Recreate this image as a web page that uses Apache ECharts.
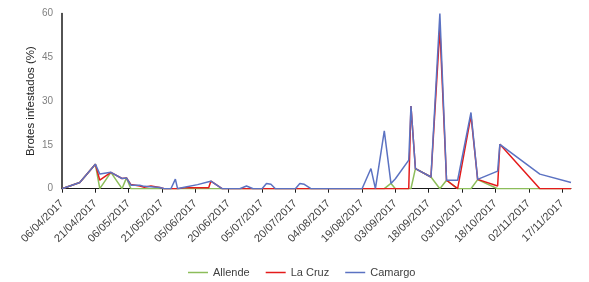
<!DOCTYPE html>
<html>
<head>
<meta charset="utf-8">
<script src="https://cdn.jsdelivr.net/npm/echarts@6/dist/echarts.min.js"></script>
<style>
html,body{margin:0;padding:0;background:#fff;}
#c{width:589px;height:282px;}
</style>
</head>
<body>
<div id="c"></div>
<script>
const dates = ["06/04/2017","14/04/2017","21/04/2017","23/04/2017","28/04/2017","03/05/2017","05/05/2017","07/05/2017","11/05/2017","13/05/2017","16/05/2017","20/05/2017","22/05/2017","25/05/2017","27/05/2017","28/05/2017","31/05/2017","06/06/2017","11/06/2017","12/06/2017","17/06/2017","25/06/2017","28/06/2017","01/07/2017","05/07/2017","07/07/2017","09/07/2017","11/07/2017","20/07/2017","22/07/2017","24/07/2017","27/07/2017","19/08/2017","23/08/2017","25/08/2017","29/08/2017","01/09/2017","03/09/2017","09/09/2017","10/09/2017","12/09/2017","19/09/2017","23/09/2017","26/09/2017","01/10/2017","07/10/2017","10/10/2017","19/10/2017","20/10/2017","07/11/2017","21/11/2017"];
const allende = [0,2.1,8.4,0,5.6,0,3.7,0,0,0,0,0,0,0,0,0,0,0,0,0,0,0,0,0,0,0,0,0,0,0,0,0,0,0,0,0,1.8,0,0,0,6.9,4,0,2.9,0,0,3.1,0,0,0,0];
const laCruz = [0,2.1,8.4,2.9,5.6,3.5,3.7,1.4,0.9,0.5,0.9,0.4,0,0,0,0,0.3,0.3,0.3,2.6,0,0,0,0,0,0,0,0,0,0,0,0,0,0,0,0,0,0,0,28.3,6.9,4,55,2.9,0,25,3.2,0.9,15.2,0,0];
const camargo = [0,2.1,8.4,5,5.6,3.5,3.7,1.2,1.2,0.8,0.7,0.4,0,0,3.3,0,0.5,1.4,2.4,2.6,0,0,0.9,0,0,1.8,1.5,0,0,1.8,1.5,0,0,6.9,0,19.8,1.8,3.4,9.8,28.3,6.9,4,60,2.9,2.9,26.1,3.2,6,15.2,5,2.1];
const tickLabels = ["06/04/2017","21/04/2017","06/05/2017","21/05/2017","05/06/2017","20/06/2017","05/07/2017","20/07/2017","04/08/2017","19/08/2017","03/09/2017","18/09/2017","03/10/2017","18/10/2017","02/11/2017","17/11/2017"];
const yTicks = [0,15,30,45,60];

function toUTC(s){const p=s.split('/');return Date.UTC(+p[2],+p[1]-1,+p[0]);}
const t0 = toUTC(dates[0]);
function dayOf(s){return Math.round((toUTC(s)-t0)/86400000);}
function fmt(d){const dt=new Date(t0+d*86400000);const dd=String(dt.getUTCDate()).padStart(2,'0');const mm=String(dt.getUTCMonth()+1).padStart(2,'0');return dd+'/'+mm+'/'+dt.getUTCFullYear();}
const days = dates.map(dayOf);
const tickDays = tickLabels.map(dayOf);
function pairs(arr){return arr.map((v,i)=>[days[i],v]);}

const chart = echarts.init(document.getElementById('c'), null, {renderer:'canvas'});
const font = 'Liberation Sans, Arial, sans-serif';
chart.setOption({
  animation:false,
  backgroundColor:'#fff',
  grid:{left:62,right:18,top:13.5,bottom:93.3,containLabel:false},
  legend:{
    left:183, top:262, icon:'rect', itemWidth:20, itemHeight:1.5, itemGap:16,
    textStyle:{fontFamily:font,fontSize:11,color:'#404040'},
    data:['Allende','La Cruz','Camargo']
  },
  xAxis:{
    type:'value', min:0, max:days[days.length-1],
    splitLine:{show:false},
    axisLine:{show:true,lineStyle:{color:'#1a1a1a',width:1}},
    axisTick:{show:true,length:4,inside:false,customValues:tickDays,lineStyle:{color:'#1a1a1a'}},
    axisLabel:{rotate:45,margin:13,fontFamily:font,fontSize:11,color:'#404040',customValues:tickDays,formatter:(v)=>fmt(v)}
  },
  yAxis:{
    type:'value', min:0, max:60, interval:15,
    name:'Brotes infestados (%)', nameLocation:'middle', nameGap:25, nameMoveOverlap:false,
    nameTextStyle:{fontFamily:font,fontSize:11.5,color:'#262626'},
    splitLine:{show:false},
    axisLine:{show:true,lineStyle:{color:'#1a1a1a',width:1.5}},
    axisTick:{show:false},
    axisLabel:{margin:9,fontFamily:font,fontSize:10,color:'#7f7f7f'}
  },
  series:[
    {name:'Allende',type:'line',data:pairs(allende),symbol:'none',lineStyle:{width:1.5,color:'#8cbd5a'},itemStyle:{color:'#8cbd5a'}},
    {name:'La Cruz',type:'line',data:pairs(laCruz),symbol:'none',lineStyle:{width:1.5,color:'#e41b1b'},itemStyle:{color:'#e41b1b'}},
    {name:'Camargo',type:'line',data:pairs(camargo),symbol:'none',lineStyle:{width:1.5,color:'#5b72c2'},itemStyle:{color:'#5b72c2'}}
  ]
});
</script>
</body>
</html>
